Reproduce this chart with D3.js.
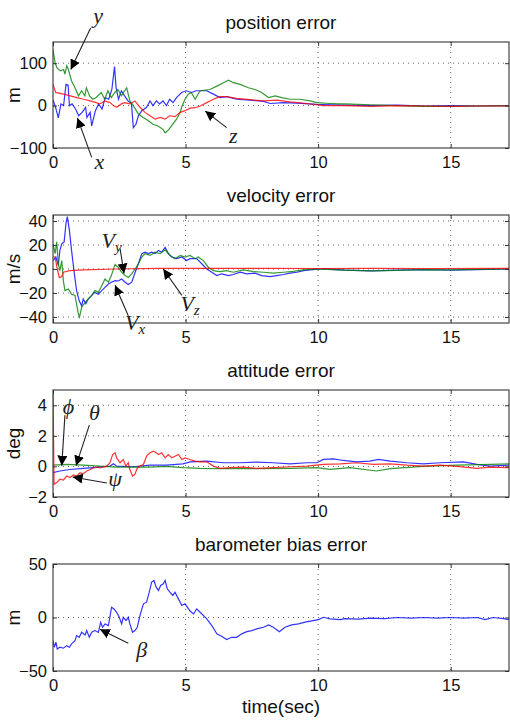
<!DOCTYPE html>
<html>
<head>
<meta charset="utf-8">
<script src="https://cdn.jsdelivr.net/npm/d3@7"></script>
<style>
  body { margin: 0; background: #fff; }
  svg text { font-family: "Liberation Sans", Arial, sans-serif; }
  .ann { font-family: "Liberation Serif", "DejaVu Serif", serif; font-style: italic; }
</style>
</head>
<body>
<div class="viz"></div>
<script>
// ---- data (time in sec, value) ----
const xTicks = [0, 5, 10, 15];

const posX = [[0,14],[0.1,-5],[0.2,-29],[0.3,4],[0.4,0],[0.49,50],[0.57,48],[0.62,0],[0.72,4],[0.85,-8],[0.97,-24],[1.1,-16],[1.23,-4],[1.28,-28],[1.4,-16],[1.46,-48],[1.6,-12],[1.72,4],[1.85,-8],[1.97,19],[2.1,15],[2.22,38],[2.32,92],[2.38,42],[2.47,15],[2.58,35],[2.7,23],[2.83,11],[2.96,4],[3.03,-52],[3.13,-44],[3.22,-24],[3.35,-12],[3.53,-4],[3.66,11],[3.77,0],[3.9,11],[4.02,4],[4.15,11],[4.28,0],[4.4,15],[4.53,7],[4.66,19],[4.85,31],[5.03,35],[5.22,31],[5.4,35],[5.55,35],[5.8,35],[6.05,27],[6.3,19],[6.55,21],[6.93,15],[7.43,13],[7.94,10],[8.19,5],[8.69,7],[9.2,6],[9.95,3],[10.5,2],[11,1],[12,0],[13,1],[14,-1],[15,0],[16,-1],[17.2,0]];
const posY = [[0,132],[0.08,101],[0.15,89],[0.28,82],[0.4,85],[0.45,74],[0.52,94],[0.58,85],[0.7,58],[0.83,42],[0.96,23],[1.08,35],[1.2,23],[1.26,42],[1.38,23],[1.5,15],[1.63,19],[1.82,31],[1.95,15],[2.07,35],[2.2,19],[2.33,31],[2.45,38],[2.58,23],[2.7,35],[2.78,42],[2.9,11],[3.03,0],[3.22,-20],[3.4,-28],[3.6,-36],[3.77,-44],[3.96,-48],[4.15,-56],[4.23,-64],[4.35,-58],[4.47,-48],[4.66,-32],[4.8,-16],[4.85,-4],[4.98,15],[5.1,27],[5.22,31],[5.36,15],[5.55,35],[5.92,38],[6.18,46],[6.43,54],[6.62,60],[6.8,54],[7.06,50],[7.37,42],[7.62,38],[7.87,31],[8.13,19],[8.38,23],[8.63,19],[8.94,15],[9.32,15],[9.7,11],[9.95,7],[10.45,5],[10.8,4],[11,4],[12,2],[13,0],[14,-2],[15,-2],[16,-1],[17.2,0]];
const posZ = [[0,50],[0.1,31],[0.4,27],[0.65,23],[0.9,19],[1.15,15],[1.4,11],[1.63,7],[1.76,4],[1.95,11],[2.15,7],[2.28,0],[2.4,-4],[2.58,4],[2.7,7],[2.9,4],[3.09,11],[3.28,-4],[3.47,-16],[3.66,-24],[3.85,-32],[4.04,-28],[4.23,-32],[4.4,-24],[4.6,-26],[4.8,-16],[4.98,-12],[5.17,-6],[5.36,-5],[5.55,-1],[5.8,7],[6.05,15],[6.3,21],[6.55,21],[6.93,17],[7.43,14],[7.94,11],[8.44,13],[8.94,9],[9.57,5],[10.2,0],[11,0],[12,-2],[13,0],[14,-1],[15,-2],[16,-1],[17.2,-1]];

const velX = [[0,7],[0.11,10],[0.2,3],[0.26,15.5],[0.33,21],[0.42,22.6],[0.49,38],[0.54,43.6],[0.62,32],[0.7,15.5],[0.79,-1.3],[0.89,-18],[0.99,-26.5],[1.08,-30.7],[1.14,-25],[1.24,-29],[1.33,-25],[1.46,-22],[1.58,-19.5],[1.71,-21],[1.84,-18],[1.96,-15.3],[2.09,-12.5],[2.2,-11],[2.34,-9.7],[2.46,-10],[2.59,-8.3],[2.72,-11],[2.84,-13],[2.97,-11],[3.1,-2.7],[3.22,4.4],[3.35,12.8],[3.47,14],[3.6,12.8],[3.72,14],[3.85,12.8],[3.98,15.5],[4.1,14],[4.23,18],[4.35,12.8],[4.48,10],[4.67,8.6],[4.86,10],[5.04,7],[5.17,8.6],[5.42,8.6],[5.61,4.4],[5.8,0],[5.99,-2.7],[6.18,-5.5],[6.36,-4],[6.62,-5.5],[6.8,-4.6],[7.06,-2.7],[7.31,-4],[7.62,-3.5],[7.87,-5.5],[8.19,-6.3],[8.44,-5.5],[8.69,-4.6],[8.94,-3.5],[9.2,-2.7],[9.45,-1.3],[9.7,-0.8],[10.2,0.3],[10.7,-0.5],[11,-1],[12,-1.5],[13,-1],[14,-0.5],[15,-1],[16,-0.5],[17.2,0]];
const velY = [[0,21],[0.08,12.8],[0.14,22.6],[0.2,4.4],[0.26,-1.3],[0.33,7],[0.39,-9.7],[0.45,-18],[0.58,-16.7],[0.7,-21],[0.83,-22],[0.96,-37.7],[1.0,-40],[1.08,-32],[1.21,-27.8],[1.33,-25],[1.46,-22],[1.58,-18],[1.71,-19.5],[1.84,-13.9],[1.96,-8.3],[2.09,-11],[2.2,-5.5],[2.34,3.8],[2.46,1.5],[2.59,-2.7],[2.72,-5.5],[2.84,-7],[2.97,-4],[3.1,0],[3.22,4.4],[3.35,10],[3.47,12.8],[3.66,11.3],[3.85,14],[4.04,12.8],[4.23,16],[4.42,11.3],[4.6,8.6],[4.8,11.3],[4.98,10],[5.17,11.3],[5.36,8.6],[5.48,10],[5.67,7],[5.86,1.5],[6.05,-1.3],[6.3,-2.2],[6.55,-1.3],[6.8,-2.7],[7.18,-0.8],[7.56,-2.2],[7.94,-2.7],[8.31,-3.5],[8.69,-2.7],[9.07,-2],[9.45,-0.8],[9.95,0],[10.7,-0.8],[11,-1],[12,-1.5],[13,-1.2],[14,-0.5],[15,-0.8],[16,-0.3],[17.2,0]];
const velZ = [[0,10],[0.08,10],[0.16,0],[0.24,-7],[0.33,-6.5],[0.39,-2.7],[0.64,-1.3],[1.14,-0.8],[2.4,0],[4,0.5],[6,0.6],[8,0.5],[10,0.4],[12,0.5],[14,0.4],[17.2,0.5]];

const attPhi = [[0,-0.41],[0.26,-0.3],[0.64,-0.2],[1.14,-0.13],[1.77,-0.04],[2.15,0.02],[2.28,0.17],[2.4,0.02],[3.03,-0.02],[3.66,0.08],[4.28,0.08],[4.9,0.17],[5.17,0.3],[5.8,0.35],[6.43,0.24],[7.06,0.24],[7.68,0.28],[8.31,0.24],[8.94,0.17],[9.57,0.24],[9.95,0.24],[10.2,0.46],[10.58,0.5],[10.96,0.39],[11.45,0.3],[11.95,0.35],[12.28,0.46],[12.72,0.35],[13.35,0.24],[13.97,0.17],[14.6,0.24],[15.48,0.3],[15.99,0.13],[16.49,0.02],[17.2,0.08]];
const attTheta = [[0,0.08],[0.52,0.13],[1.14,0.08],[1.77,0.02],[2.4,-0.04],[3.03,-0.04],[3.66,-0.04],[4.28,0],[4.9,-0.08],[5.55,-0.13],[6.43,-0.15],[7.68,-0.15],[8.94,-0.13],[9.95,-0.08],[10.45,-0.19],[11.2,-0.08],[12.2,-0.3],[12.72,-0.15],[13.97,0],[15.23,0.08],[16.49,0.13],[17.2,0.17]];
const attPsi = [[0,5.1],[0.04,-1.17],[0.14,-1.06],[0.26,-0.84],[0.39,-0.9],[0.52,-0.63],[0.64,-0.73],[0.77,-0.56],[0.89,-0.63],[1.02,-0.41],[1.14,-0.48],[1.27,-0.3],[1.4,-0.2],[1.52,-0.1],[1.65,-0.04],[1.77,-0.1],[1.9,-0.04],[2.02,0.02],[2.15,0.24],[2.25,0.78],[2.34,0.89],[2.4,0.56],[2.53,0.24],[2.65,0.45],[2.75,0.02],[2.84,0.24],[2.9,-0.2],[3.0,-0.63],[3.09,-0.52],[3.18,-0.1],[3.28,0.02],[3.41,0.13],[3.53,0.67],[3.66,0.89],[3.79,1.0],[3.89,0.89],[3.98,0.78],[4.1,0.89],[4.23,0.56],[4.35,0.78],[4.48,0.56],[4.6,0.67],[4.73,0.78],[4.86,0.45],[4.98,0.56],[5.17,0.45],[5.36,0.35],[5.55,0.3],[5.8,0.3],[6.05,0.02],[6.3,-0.13],[6.68,-0.08],[7.18,-0.04],[7.68,-0.13],[8.31,-0.08],[8.94,-0.02],[9.57,0.02],[10.2,0.13],[10.83,0.17],[11.45,0.24],[12.08,0.13],[12.72,0.17],[13.35,0.08],[13.97,0.02],[14.6,0.08],[15.23,0],[15.99,-0.13],[16.49,-0.04],[17.2,-0.08]];

const baroBeta = [[0,-21.6],[0.05,-27.8],[0.11,-23],[0.16,-29.4],[0.26,-27.8],[0.39,-28.7],[0.52,-26.3],[0.62,-27.8],[0.7,-24.7],[0.83,-21.6],[0.89,-16.9],[0.99,-18.5],[1.08,-13.8],[1.21,-16.3],[1.27,-12.2],[1.37,-18.5],[1.46,-13.8],[1.58,-12.2],[1.71,-13.8],[1.8,-4.4],[1.87,-9.1],[1.96,-6],[2.09,-7.5],[2.21,9.6],[2.3,8],[2.4,4.9],[2.5,0.2],[2.59,-6],[2.65,0.2],[2.75,-2.9],[2.84,0.2],[2.9,-6],[3.0,-13.8],[3.09,-12.2],[3.18,-9.1],[3.28,1.8],[3.41,12.8],[3.53,14.3],[3.63,23.7],[3.72,33.1],[3.81,34.6],[3.89,28.4],[3.98,25.3],[4.06,30],[4.16,31.5],[4.23,34.6],[4.31,26.8],[4.41,23.7],[4.52,20.6],[4.6,23.7],[4.73,17.4],[4.86,11.2],[4.98,12.8],[5.17,6],[5.3,3.3],[5.42,8],[5.55,4.9],[5.8,-1.3],[5.99,-7.5],[6.18,-15.3],[6.36,-17.5],[6.55,-20.6],[6.74,-18.5],[6.93,-18.5],[7.12,-15.3],[7.31,-13.2],[7.5,-12.2],[7.68,-10.6],[7.94,-9.1],[8.13,-6.9],[8.31,-9.1],[8.54,-13.2],[8.75,-9.1],[9.0,-6.9],[9.26,-6],[9.51,-4.4],[9.76,-3.2],[10.01,-2],[10.2,0.2],[10.45,-1.3],[10.83,-2],[11,-1],[11.5,-1.5],[12,-0.5],[12.5,-1],[13,0],[13.5,-0.5],[14,0],[14.5,-0.5],[15,0],[15.5,-0.5],[16,0],[16.3,-2],[16.6,0],[17,-1],[17.2,-2]];

// annotation arrows: label position, tail, tip (data units)
const posNotes = [
  { text: 'y', at: [1.7, 207], from: [1.42, 183], to: [0.67, 85] },
  { text: 'x', at: [1.75, -138], from: [1.46, -122], to: [0.92, -29] },
  { text: 'z', at: [6.8, -76], from: [6.55, -52], to: [5.74, -13] }
];
const velNotes = [
  { text: 'V', sub: 'y', at: [2.21, 22], from: [2.53, 17], to: [2.68, -3.8] },
  { text: 'V', sub: 'x', at: [3.1, -47], from: [2.84, -39], to: [2.34, -13.6] },
  { text: 'V', sub: 'z', at: [5.17, -31], from: [4.86, -22], to: [4.16, 0] }
];
const attNotes = [
  { text: 'ϕ', at: [0.58, 3.75], from: [0.45, 3.35], to: [0.33, 0.05] },
  { text: 'θ', at: [1.56, 3.4], from: [1.37, 2.7], to: [0.87, 0.05] },
  { text: 'ψ', at: [2.34, -0.95], from: [2.03, -1.08], to: [0.74, -0.69] }
];
const baroNotes = [
  { text: 'β', at: [3.35, -32], from: [2.84, -24], to: [1.77, -11] }
];

const panels = [
  { title: 'position error', ylabel: 'm', top: 42, bottom: 148, yDomain: [-100, 150], yTicks: [-100, 0, 100],
    series: [[posX, '#0000ff'], [posY, '#008000'], [posZ, '#ff0000']], notes: posNotes },
  { title: 'velocity error', ylabel: 'm/s', top: 215, bottom: 323, yDomain: [-45, 45], yTicks: [-40, -20, 0, 20, 40],
    series: [[velX, '#0000ff'], [velY, '#008000'], [velZ, '#ff0000']], notes: velNotes },
  { title: 'attitude error', ylabel: 'deg', top: 390, bottom: 497, yDomain: [-2, 5], yTicks: [-2, 0, 2, 4],
    series: [[attPhi, '#0000ff'], [attTheta, '#008000'], [attPsi, '#ff0000']], notes: attNotes },
  { title: 'barometer bias error', ylabel: 'm', top: 564, bottom: 671, yDomain: [-50, 50], yTicks: [-50, 0, 50],
    series: [[baroBeta, '#0000ff']], notes: baroNotes }
];

const W = 510, H = 721;
const left = 53, right = 509;

const svg = d3.select('.viz').append('svg')
  .attr('width', W).attr('height', H);

const defs = svg.append('defs');
defs.append('marker')
  .attr('id', 'head')
  .attr('viewBox', '0 0 10 10')
  .attr('refX', 10).attr('refY', 5)
  .attr('markerWidth', 10).attr('markerHeight', 10)
  .attr('markerUnits', 'userSpaceOnUse')
  .attr('orient', 'auto')
  .append('path').attr('d', 'M0,0L10,5L0,10z').attr('fill', '#000');

const x = d3.scaleLinear().domain([0, 17.2]).range([left, right]);

panels.forEach((p, i) => {
  const y = d3.scaleLinear().domain(p.yDomain).range([p.bottom, p.top]);
  const g = svg.append('g');

  defs.append('clipPath').attr('id', 'clip' + i)
    .append('rect').attr('x', left).attr('y', p.top)
    .attr('width', right - left).attr('height', p.bottom - p.top);

  // dotted grid
  g.selectAll('.gx').data(xTicks.filter(t => t > 0)).enter().append('line')
    .attr('x1', d => x(d)).attr('x2', d => x(d))
    .attr('y1', p.top).attr('y2', p.bottom)
    .attr('stroke', '#555').attr('stroke-width', 0.9).attr('stroke-dasharray', '1,4');
  g.selectAll('.gy').data(p.yTicks.filter(t => y(t) > p.top + 1 && y(t) < p.bottom - 1)).enter().append('line')
    .attr('x1', left).attr('x2', right)
    .attr('y1', d => y(d)).attr('y2', d => y(d))
    .attr('stroke', '#555').attr('stroke-width', 0.9).attr('stroke-dasharray', '1,4');

  // series
  const line = d3.line().x(d => x(d[0])).y(d => y(d[1]));
  p.series.forEach(s => {
    g.append('path').datum(s[0])
      .attr('clip-path', 'url(#clip' + i + ')')
      .attr('fill', 'none').attr('stroke', s[1]).attr('stroke-width', 1.2)
      .attr('stroke-opacity', 0.8)
      .attr('d', line);
  });

  // axes with inward ticks (matlab style)
  g.append('g').attr('transform', 'translate(0,' + p.bottom + ')')
    .call(d3.axisBottom(x).tickValues(xTicks).tickSize(-4).tickPadding(8).tickFormat(d3.format('d')))
    .call(a => a.select('.domain').remove());
  g.append('g').attr('transform', 'translate(0,' + p.top + ')')
    .call(d3.axisTop(x).tickValues(xTicks).tickSize(-4).tickFormat(''))
    .call(a => a.select('.domain').remove());
  g.append('g').attr('transform', 'translate(' + left + ',0)')
    .call(d3.axisLeft(y).tickValues(p.yTicks).tickSize(-4).tickPadding(6)
      .tickFormat(d => d < 0 ? '\u2212' + Math.abs(d) : d))
    .call(a => a.select('.domain').remove());
  g.append('g').attr('transform', 'translate(' + right + ',0)')
    .call(d3.axisRight(y).tickValues(p.yTicks).tickSize(-4).tickFormat(''))
    .call(a => a.select('.domain').remove());
  g.selectAll('.tick line').attr('stroke', '#333');
  g.selectAll('.tick text').attr('font-size', 16.5).attr('fill', '#111')
    .attr('font-family', '"Liberation Sans", Arial, sans-serif');

  g.append('rect').attr('x', left).attr('y', p.top)
    .attr('width', right - left).attr('height', p.bottom - p.top)
    .attr('fill', 'none').attr('stroke', '#333').attr('stroke-width', 1.1);

  g.append('text').attr('x', (left + right) / 2).attr('y', p.top - 13)
    .attr('text-anchor', 'middle').attr('font-size', 19).attr('fill', '#111')
    .text(p.title);

  g.append('text')
    .attr('transform', 'translate(20,' + (p.top + p.bottom) / 2 + ') rotate(-90)')
    .attr('text-anchor', 'middle').attr('font-size', 19).attr('fill', '#111')
    .text(p.ylabel);

  // annotations
  p.notes.forEach(n => {
    g.append('line')
      .attr('x1', x(n.from[0])).attr('y1', y(n.from[1]))
      .attr('x2', x(n.to[0])).attr('y2', y(n.to[1]))
      .attr('stroke', '#222').attr('stroke-width', 1.1)
      .attr('marker-end', 'url(#head)');
    const t = g.append('text').attr('class', 'ann')
      .attr('x', x(n.at[0])).attr('y', y(n.at[1]))
      .attr('text-anchor', 'middle').attr('dominant-baseline', 'middle')
      .attr('font-size', 22).attr('fill', '#222')
      .text(n.text);
    if (n.sub) {
      t.append('tspan').attr('dy', 6).attr('font-size', 15).text(n.sub);
    }
  });
});

svg.append('text').attr('x', (left + right) / 2).attr('y', 713)
  .attr('text-anchor', 'middle').attr('font-size', 19).attr('fill', '#111')
  .text('time(sec)');
</script>
</body>
</html>
